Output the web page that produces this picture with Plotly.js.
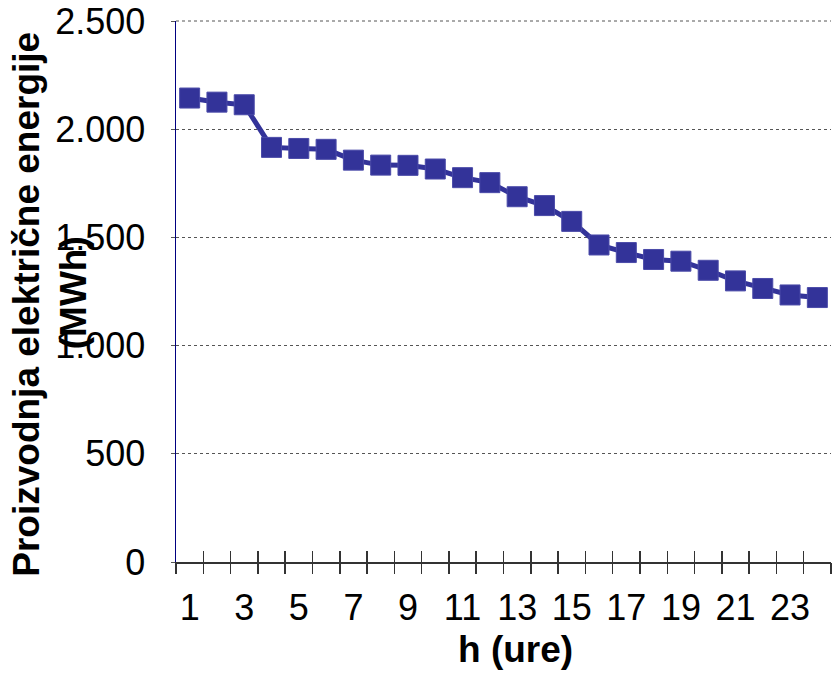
<!DOCTYPE html>
<html>
<head>
<meta charset="utf-8">
<script src="https://cdn.plot.ly/plotly-3.0.1.min.js"></script>
<style>html,body{margin:0;padding:0;background:#fff;}#chart{width:833px;height:674px;}</style>
</head>
<body>
<div id="chart"></div>
<script>
// Hours (categories)
const hours = [1,2,3,4,5,6,7,8,9,10,11,12,13,14,15,16,17,18,19,20,21,22,23,24];
// Electricity production (MWh)
const production = [2144,2125,2113,1916,1911,1907,1857,1834,1833,1816,1776,1753,1688,1647,1574,1465,1430,1398,1390,1348,1299,1264,1234,1222];
// Labelled x ticks
const xTickHours = [1,3,5,7,9,11,13,15,17,19,21,23];
// Y ticks
const yTickVals = [0,500,1000,1500,2000,2500];
const yTickText = ['0','500','1.000','1.500','2.000','2.500'];
// Texts
const yTitleLine1 = 'Proizvodnja električne energije';
const yTitleLine2 = '(MWh)';
const xTitle = 'h (ure)';

const boundaries = hours.map(h => h - 0.5).concat([hours[hours.length-1] + 0.5]);
const xRange = [hours[0] - 0.5, hours[hours.length-1] + 0.5];
const yMax = 2500;
const FONT = 'Liberation Sans, Arial, sans-serif';

const trace = {
  x: hours, y: production, type: 'scatter', mode: 'lines+markers',
  line: {color: '#333399', width: 5},
  marker: {symbol: 'square', size: 20, color: '#333399', line: {color: '#4a4aa8', width: 1}},
  cliponaxis: false, showlegend: false, hoverinfo: 'x+y'
};
const t2 = {x: xRange, y: [0,0], xaxis: 'x2', yaxis: 'y', mode: 'none', showlegend: false, hoverinfo: 'skip'};
const t3 = {x: xRange, y: [0,0], xaxis: 'x3', yaxis: 'y', mode: 'none', showlegend: false, hoverinfo: 'skip'};

const tickAxis = (dir) => ({
  overlaying: 'x', anchor: 'y', range: xRange, tickmode: 'array', tickvals: boundaries,
  ticks: dir, ticklen: 11, tickwidth: 1.5, tickcolor: '#333333',
  showticklabels: false, showgrid: false, zeroline: false, showline: false, fixedrange: true
});

const plotL = 176, plotW = 655, plotT = 20.5, plotB = 562;
const plotH = plotB - plotT;
const px = (x) => (x - plotL) / plotW;
const py = (y) => (plotB - y) / plotH;

const layout = {
  width: 833, height: 674,
  margin: {l: plotL, r: 833 - plotL - plotW, t: plotT, b: 674 - plotB, pad: 0},
  paper_bgcolor: '#ffffff', plot_bgcolor: '#ffffff',
  font: {family: FONT, color: '#000000', size: 36},
  xaxis: {
    range: xRange, tickmode: 'array', tickvals: xTickHours, ticktext: xTickHours.map(String),
    ticks: '', ticklabelstandoff: 13, ticklabeloverflow: 'allow',
    showgrid: false, zeroline: false,
    showline: true, linecolor: '#333333', linewidth: 2,
    tickfont: {family: FONT, size: 36, color: '#000'}
  },
  xaxis2: tickAxis('outside'),
  xaxis3: tickAxis('inside'),
  yaxis: {
    range: [0, yMax], tickmode: 'array', tickvals: yTickVals, ticktext: yTickText,
    ticks: 'outside', ticklen: 4, tickcolor: '#555555', tickwidth: 1,
    ticklabelstandoff: 18, ticklabeloverflow: 'allow',
    showgrid: true, gridcolor: '#555555', gridwidth: 1, griddash: 'dot',
    zeroline: false, showline: true, linecolor: '#000080', linewidth: 1.5,
    tickfont: {family: FONT, size: 36, color: '#000'}
  },
  shapes: [
    // top gridline (at the range edge, which Plotly does not draw itself)
    {type: 'line', xref: 'paper', yref: 'paper', x0: 0, x1: 1, y0: 1, y1: 1, layer: 'above',
     line: {color: '#555555', width: 1, dash: 'dot'}}
  ],
  annotations: [
    {text: '<b>' + yTitleLine1 + '</b>', textangle: -90, xref: 'paper', yref: 'paper',
     x: px(27), y: py(304.5), xanchor: 'center', yanchor: 'middle',
     showarrow: false, font: {family: FONT, size: 37, color: '#000'}},
    {text: '<b>' + yTitleLine2 + '</b>', textangle: -90, xref: 'paper', yref: 'paper',
     x: px(73), y: py(293), xanchor: 'center', yanchor: 'middle',
     showarrow: false, font: {family: FONT, size: 37, color: '#000'}},
    {text: '<b>' + xTitle + '</b>', xref: 'paper', yref: 'paper',
     x: px(515), y: py(650), xanchor: 'center', yanchor: 'middle',
     showarrow: false, font: {family: FONT, size: 37, color: '#000'}}
  ]
};

Plotly.newPlot('chart', [trace, t2, t3], layout, {staticPlot: true, displayModeBar: false});
</script>
</body>
</html>
